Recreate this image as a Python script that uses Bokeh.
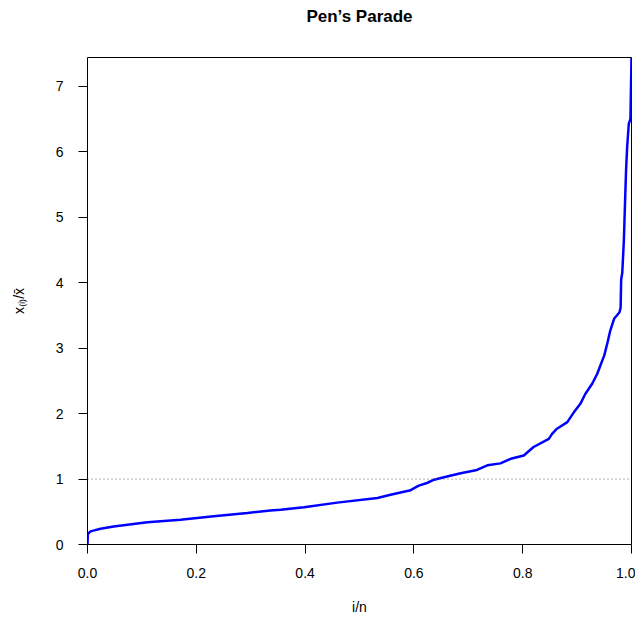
from bokeh.plotting import figure
from bokeh.models import Range1d, FixedTicker, NumeralTickFormatter, Span, Title
from bokeh.embed import file_html
from bokeh.resources import INLINE

# Pen's Parade: cumulative population share (i/n) vs. income relative to the mean
pop_share = [0.0, 0.0006, 0.0055, 0.024, 0.048, 0.11, 0.171, 0.232, 0.294, 0.336,
             0.355, 0.398, 0.459, 0.533, 0.557, 0.594, 0.609, 0.624, 0.637, 0.661,
             0.686, 0.716, 0.735, 0.759, 0.778, 0.802, 0.820, 0.848, 0.854, 0.863,
             0.882, 0.894, 0.906, 0.915, 0.928, 0.937, 0.943, 0.950, 0.956, 0.961,
             0.968, 0.978, 0.980, 0.981, 0.983, 0.986, 0.988, 0.990, 0.992, 0.995,
             0.998, 1.0]
rel_income = [0.0, 0.16, 0.20, 0.24, 0.275, 0.34, 0.38, 0.43, 0.48, 0.52,
              0.53, 0.57, 0.64, 0.71, 0.76, 0.83, 0.90, 0.94, 0.99, 1.04,
              1.09, 1.14, 1.21, 1.24, 1.31, 1.36, 1.49, 1.615, 1.69, 1.77,
              1.87, 2.02, 2.15, 2.30, 2.46, 2.61, 2.74, 2.89, 3.09, 3.27,
              3.45, 3.55, 3.62, 4.05, 4.15, 4.65, 5.2, 5.72, 6.07, 6.43,
              6.5, 7.44]
x_ticks = [0.0, 0.2, 0.4, 0.6, 0.8, 1.0]
y_ticks = [0, 1, 2, 3, 4, 5, 6, 7]
mean_level = 1.0

FONT = "Liberation Sans"

p = figure(width=635, height=619, output_backend="svg", toolbar_location=None,
           x_range=Range1d(0, 1), y_range=Range1d(0, 7.443),
           min_border_left=87, min_border_top=57, min_border_right=4, min_border_bottom=75)
p.title = Title(text="Pen\u2019s Parade", align="center", standoff=0,
                text_font=FONT, text_font_size="17px",
                text_font_style="bold", text_color="black")
# blank spacer between the title and the frame
p.add_layout(Title(text=" ", text_font_size="1px", standoff=29), "above")

p.grid.visible = False
p.outline_line_color = "black"
p.outline_line_width = 1
p.outline_line_alpha = 1
p.background_fill_color = "white"
p.border_fill_color = "white"

p.add_layout(Span(location=mean_level, dimension="width", line_color="#666666",
                  line_dash="1 3", line_width=1))

p.line(pop_share, rel_income, line_color="blue", line_width=2.5)

for ax in (p.xaxis[0], p.yaxis[0]):
    ax.axis_line_color = None
    ax.major_tick_line_color = "black"
    ax.major_tick_out = 9
    ax.major_tick_in = 0
    ax.minor_tick_line_color = None
    ax.major_label_text_font = FONT
    ax.major_label_text_font_size = "14px"
    ax.major_label_text_color = "black"
    ax.axis_label_text_font = FONT
    ax.axis_label_text_font_size = "14px"
    ax.axis_label_text_font_style = "normal"
    ax.axis_label_text_color = "black"

p.xaxis[0].ticker = FixedTicker(ticks=x_ticks)
p.xaxis[0].formatter = NumeralTickFormatter(format="0.0")
p.xaxis[0].major_label_standoff = 14
p.xaxis[0].axis_label = "i/n"
p.xaxis[0].axis_label_standoff = 18

p.yaxis[0].ticker = FixedTicker(ticks=y_ticks)
p.yaxis[0].major_label_orientation = "horizontal"
p.yaxis[0].major_label_standoff = 15
p.yaxis[0].axis_label = "x\u208d\u1d62\u208e/x\u0304"
p.yaxis[0].axis_label_standoff = 26

open("out.html", "w").write(file_html(p, INLINE))
